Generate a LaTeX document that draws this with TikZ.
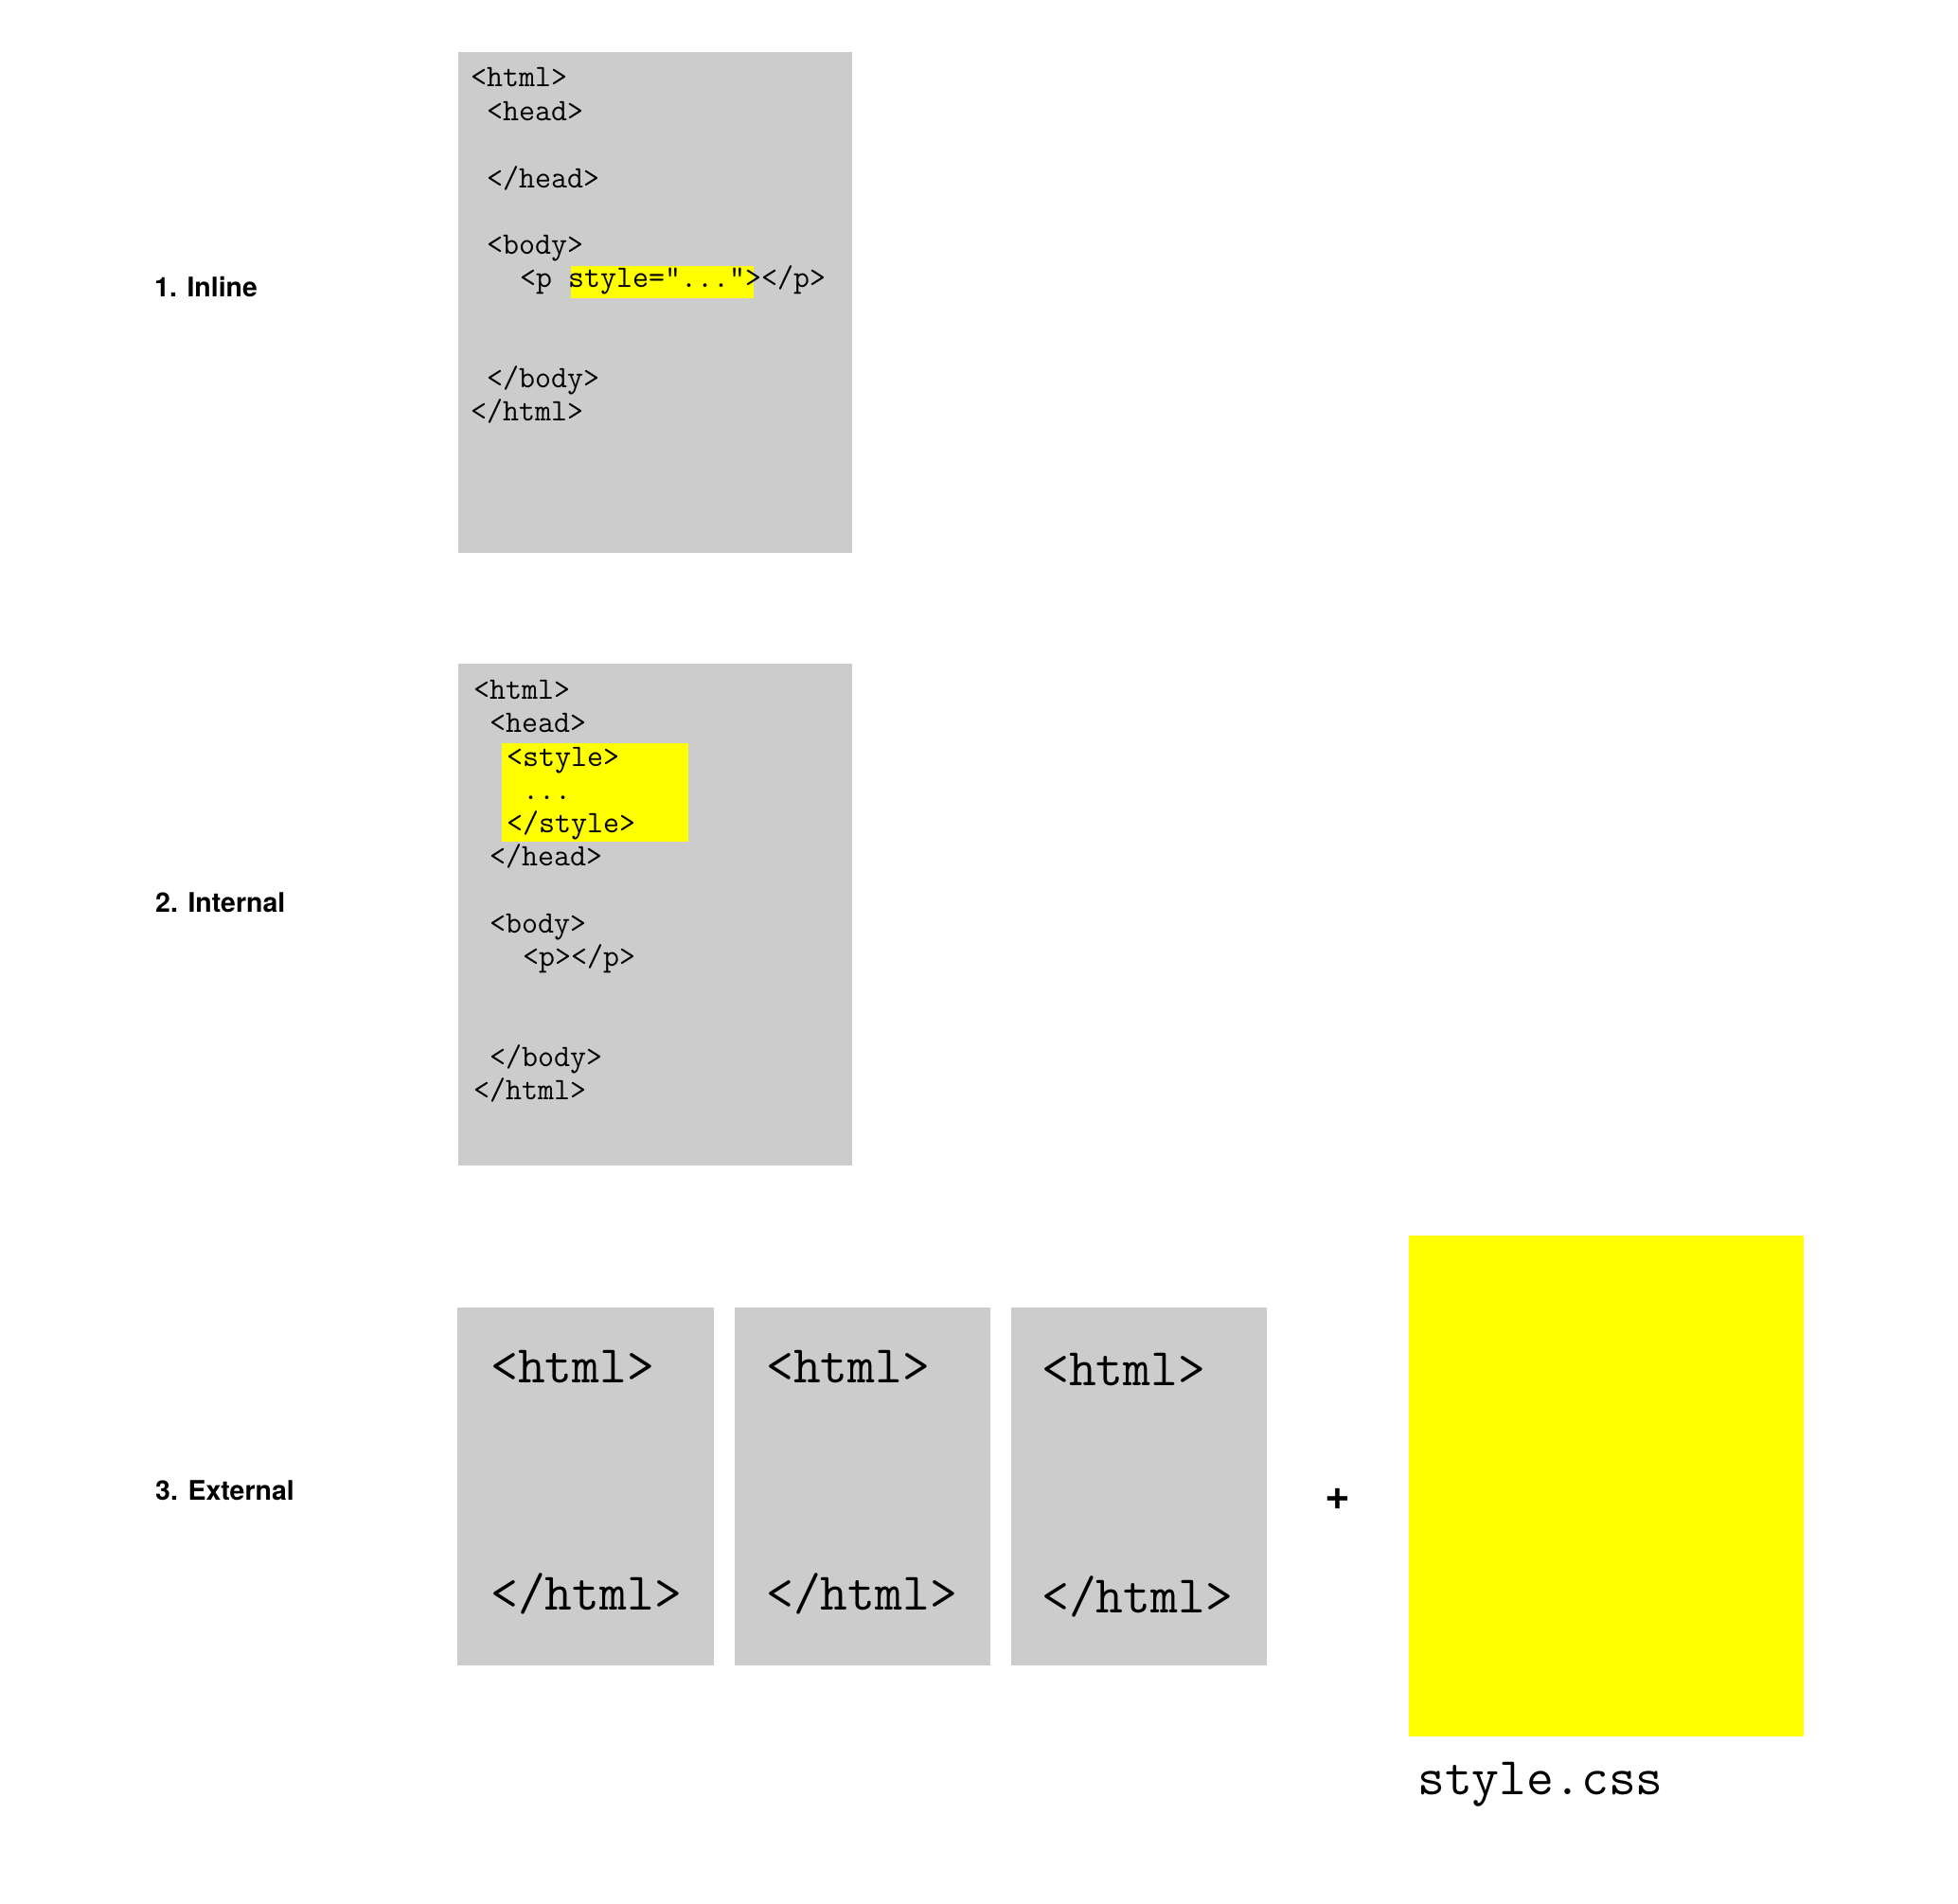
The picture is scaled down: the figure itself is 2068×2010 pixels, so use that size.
\documentclass[tikz,border=0pt]{standalone}
\usepackage{fontspec}
\setsansfont{TeX Gyre Heros}
\definecolor{pagegray}{HTML}{CCCCCC}
\definecolor{hiyellow}{HTML}{FFFF00}

\begin{document}
\begin{tikzpicture}[x=1pt,y=-1pt,
    page/.style={fill=pagegray, inner sep=0pt, anchor=north west},
    hilite/.style={fill=hiyellow, inner sep=0pt, anchor=north west},
    code/.style={anchor=base west, inner sep=0pt, font=\fontsize{33}{36}\selectfont\ttfamily},
    bigcode/.style={anchor=base west, inner sep=0pt, font=\fontsize{56}{60}\selectfont\ttfamily},
    rowlabel/.style={anchor=base west, inner sep=0pt, font=\fontsize{28.5}{32}\selectfont\sffamily\bfseries}]
    \useasboundingbox (0,0) rectangle (2068,2010);

    % 1. Inline
    \node[rowlabel] at (163,313) (lab_inline) {1. Inline};
    \node[page, minimum width=416pt, minimum height=529pt] at (484,55) (inline) {};
    \node[hilite, minimum width=193pt, minimum height=34pt] at (603,281) (inline_hl) {};
    \node[code] at (497,92)  (in_html)  {<html>};
    \node[code] at (514,127) (in_head)  {<head>};
    \node[code] at (514,198) (in_ehead) {</head>};
    \node[code] at (514,268) (in_body)  {<body>};
    \node[code] at (549,303) (in_p)     {<p style=“...”></p>};
    \node[code] at (514,409) (in_ebody) {</body>};
    \node[code] at (497,444) (in_ehtml) {</html>};

    % 2. Internal
    \node[rowlabel] at (164,963) (lab_internal) {2. Internal};
    \node[page, minimum width=416pt, minimum height=530pt] at (484,701) (internal) {};
    \node[hilite, minimum width=197pt, minimum height=104pt] at (530,785) (internal_hl) {};
    \node[code] at (500,738)  (it_html)   {<html>};
    \node[code] at (517,773)  (it_head)   {<head>};
    \node[code] at (535,809)  (it_style)  {<style>};
    \node[code] at (552,844)  (it_dots)   {...};
    \node[code] at (535,879)  (it_estyle) {</style>};
    \node[code] at (517,914)  (it_ehead)  {</head>};
    \node[code] at (517,985)  (it_body)   {<body>};
    \node[code] at (552,1020) (it_p)      {<p></p>};
    \node[code] at (517,1126) (it_ebody)  {</body>};
    \node[code] at (500,1161) (it_ehtml)  {</html>};

    % 3. External
    \node[rowlabel] at (164,1584) (lab_external) {3. External};
    \node[page, minimum width=271pt, minimum height=378pt] at (483,1381)  (ext_a) {};
    \node[page, minimum width=270pt, minimum height=378pt] at (776,1381)  (ext_b) {};
    \node[page, minimum width=270pt, minimum height=378pt] at (1068,1381) (ext_c) {};
    \node[bigcode] at (518,1460)  (ea_html)  {<html>};
    \node[bigcode] at (518,1700)  (ea_ehtml) {</html>};
    \node[bigcode] at (809,1460)  (eb_html)  {<html>};
    \node[bigcode] at (809,1700)  (eb_ehtml) {</html>};
    \node[bigcode] at (1100,1463) (ec_html)  {<html>};
    \node[bigcode] at (1100,1703) (ec_ehtml) {</html>};
    \node[font=\fontsize{46}{50}\selectfont\sffamily\bfseries, inner sep=0pt] at (1413,1583) (plus) {+};
    \node[hilite, minimum width=417pt, minimum height=529pt] at (1488,1305) (css) {};
    \node[bigcode] at (1497,1895) (css_name) {style.css};
\end{tikzpicture}
\end{document}
